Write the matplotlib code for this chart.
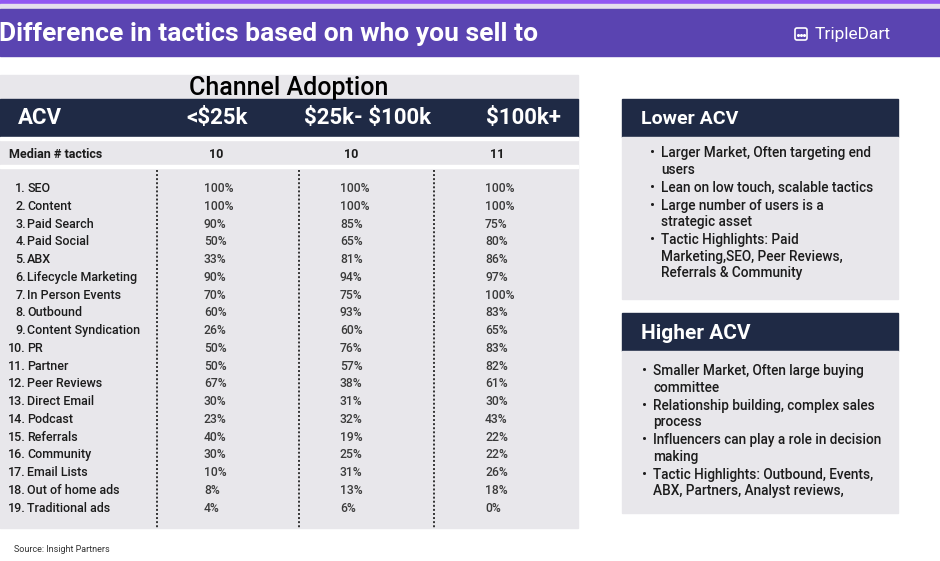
import matplotlib
matplotlib.use('Agg')
import matplotlib.pyplot as plt
from matplotlib.patches import Rectangle, FancyBboxPatch

plt.rcParams['font.family'] = ['Roboto', 'DejaVu Sans']
plt.rcParams['text.parse_math'] = False

# ---- data ----
title = 'Difference in tactics based on who you sell to'
brand = 'TripleDart'
table_title = 'Channel Adoption'
acv_cols = ['<$25k', '$25k- $100k', '$100k+']
median_tactics = [10, 10, 11]
tactics = ['SEO', 'Content', 'Paid Search', 'Paid Social', 'ABX', 'Lifecycle Marketing',
           'In Person Events', 'Outbound', 'Content Syndication', 'PR', 'Partner',
           'Peer Reviews', 'Direct Email', 'Podcast', 'Referrals', 'Community',
           'Email Lists', 'Out of home ads', 'Traditional ads']
low_acv = [100, 100, 90, 50, 33, 90, 70, 60, 26, 50, 50, 67, 30, 23, 40, 30, 10, 8, 4]
mid_acv = [100, 100, 85, 65, 81, 94, 75, 93, 60, 76, 57, 38, 31, 32, 19, 25, 31, 13, 6]
high_acv = [100, 100, 75, 80, 86, 97, 100, 83, 65, 83, 82, 61, 30, 43, 22, 22, 26, 18, 0]
lower_notes = [['Larger Market, Often targeting end', 'users'],
               ['Lean on low touch, scalable tactics'],
               ['Large number of users is a', 'strategic asset'],
               ['Tactic Highlights: Paid', 'Marketing,SEO, Peer Reviews,', 'Referrals & Community']]
higher_notes = [['Smaller Market, Often large buying', 'committee'],
                ['Relationship building, complex sales', 'process'],
                ['Influencers can play a role in decision', 'making'],
                ['Tactic Highlights: Outbound, Events,', 'ABX, Partners, Analyst reviews,']]
source = 'Source: Insight Partners'

PURPLE = '#5a44b1'
NAVY = '#1f2a45'
GREY = '#e8e7eb'
TEXT = '#1c1c1c'

fig = plt.figure(figsize=(9.4, 5.61), dpi=100)
ax = fig.add_axes([0, 0, 1, 1])
ax.set_xlim(0, 940)
ax.set_ylim(561, 0)
ax.axis('off')

# top banner
ax.add_patch(Rectangle((0, 0), 940, 4, color='#9158f2'))
ax.add_patch(Rectangle((0, 4), 940, 5, color='#e4e0ec'))
ax.add_patch(Rectangle((0, 9), 940, 47, color=PURPLE))
ax.text(-1, 34, title, color='white', fontsize=19, fontweight='bold', va='center', ha='left')
ax.add_patch(FancyBboxPatch((795, 28), 12, 12, boxstyle='round,pad=0,rounding_size=2',
                            fill=False, ec='white', lw=1.2))
ax.plot([798, 801, 804], [34.5, 34.5, 34.5], ls='none', marker='o', ms=1.2, color='white')
ax.text(815, 34, brand, color='white', fontsize=12.5, va='center', ha='left')

# table
ax.add_patch(Rectangle((0, 75), 578, 453, color=GREY))
ax.text(289, 88, table_title, fontsize=18, fontweight='medium', ha='center', va='center', color='black')
ax.add_patch(Rectangle((0, 99), 578, 38, color=NAVY))
ax.add_patch(Rectangle((0, 137), 578, 3, color='white'))
ax.add_patch(Rectangle((0, 165), 578, 3, color='white'))
ax.text(18, 118, 'ACV', color='white', fontsize=16, fontweight='bold', va='center')
head_x = [217, 367, 523]
for x, lab in zip(head_x, acv_cols):
    ax.text(x, 118, lab, color='white', fontsize=16, fontweight='bold', va='center', ha='center')

ax.text(9, 154, 'Median # tactics', fontsize=9, fontweight='bold', va='center', color=TEXT)
med_x = [216, 351, 497]
for x, v in zip(med_x, median_tactics):
    ax.text(x, 154, str(v), fontsize=9, fontweight='bold', va='center', ha='center', color=TEXT)

for x in [157, 299, 434]:
    ax.plot([x, x], [170, 528], color='#333333', lw=1.4, ls=(0, (1, 1.1)))

row_y0, row_dy = 188.7, 17.75
val_x = [204, 340, 485]
for i, name in enumerate(tactics):
    y = row_y0 + i * row_dy
    ax.text(26, y, f'{i + 1}.', fontsize=9, fontweight='medium', ha='right', va='center', color=TEXT)
    ax.text(27, y, name, fontsize=9, fontweight='medium', ha='left', va='center', color=TEXT)
    for x, vals in zip(val_x, [low_acv, mid_acv, high_acv]):
        ax.text(x, y, f'{vals[i]}%', fontsize=8.7, fontweight='medium', ha='left', va='center',
                color='#3a3a3a')

ax.text(14, 550, source, fontsize=6.5, va='center', color='#333333')


def note_box(y_top, heading, notes, first_y, bx, tx, head_size):
    ax.add_patch(Rectangle((622, y_top), 276, 38, color=NAVY))
    ax.add_patch(Rectangle((622, y_top + 38), 276, 162, color=GREY))
    ax.text(641, y_top + 20, heading, color='white', fontsize=head_size, fontweight='bold', va='center')
    y = first_y
    for note in notes:
        ax.text(bx, y, '\u2022', fontsize=11, va='center', color=TEXT)
        for line in note:
            ax.text(tx, y, line, fontsize=9.8, fontweight='medium', va='center', color=TEXT)
            y += 16.5
        y += 1.5


note_box(99, 'Lower ACV', lower_notes, 153, 650, 661, 14)
note_box(313, 'Higher ACV', higher_notes, 371, 642, 653, 15)

fig.savefig('out.png', dpi=100)
